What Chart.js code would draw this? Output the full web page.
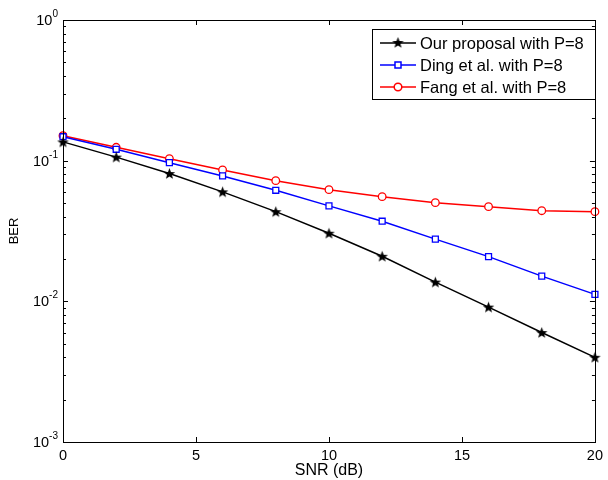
<!DOCTYPE html>
<html>
<head>
<meta charset="utf-8">
<script src="https://cdn.jsdelivr.net/npm/chart.js@4/dist/chart.umd.min.js"></script>
<style>
  html, body { margin: 0; padding: 0; background: #fff; }
  canvas { display: block; }
</style>
</head>
<body>
<canvas id="berChart" width="608" height="480"></canvas>
<script>
// --- data ---
const snr = [0, 2, 4, 6, 8, 10, 12, 14, 16, 18, 20];
const oursBer = [0.136, 0.106, 0.081, 0.060, 0.0434, 0.0305, 0.0209, 0.0137, 0.0091, 0.0060, 0.0040];
const dingBer = [0.148, 0.1205, 0.0968, 0.0779, 0.0616, 0.0477, 0.0371, 0.0277, 0.0208, 0.0151, 0.0112];
const fangBer = [0.1506, 0.1245, 0.1033, 0.0859, 0.0721, 0.0622, 0.0555, 0.0503, 0.0471, 0.0441, 0.0434];
const seriesNames = ['Our proposal with P=8', 'Ding et al. with P=8', 'Fang et al. with P=8'];
const xTicks = [0, 5, 10, 15, 20];
const yDecades = [0, -1, -2, -3];

const FONT = "'Liberation Sans', Arial, Helvetica, sans-serif";

// filled pentagram marker (MATLAB 'p')
function makeStar(size) {
    const c = document.createElement('canvas');
    c.width = size; c.height = size;
    const g = c.getContext('2d');
    const cx = size / 2, cy = size / 2 + 0.5;
    const ro = size / 2 - 0.5, ri = ro * 0.42;
    g.beginPath();
    for (let i = 0; i < 10; i++) {
        const r = i % 2 === 0 ? ro : ri;
        const a = -Math.PI / 2 + i * Math.PI / 5;
        const px = cx + r * Math.cos(a), py = cy + r * Math.sin(a);
        if (i === 0) g.moveTo(px, py); else g.lineTo(px, py);
    }
    g.closePath();
    g.fillStyle = '#000';
    g.fill();
    return c;
}
const starImg = makeStar(13);

const toPoints = arr => arr.map((v, i) => ({ x: snr[i], y: v }));

// --- axes box, inward ticks, log labels, legend ---
const matlabAxes = {
    id: 'matlabAxes',
    afterDraw(chart) {
        const { ctx, chartArea: a, scales } = chart;
        const xs = scales.x, ys = scales.y;
        ctx.save();
        ctx.strokeStyle = '#000';
        ctx.lineWidth = 1;

        // ticks
        ctx.beginPath();
        xTicks.forEach(t => {
            const px = Math.round(xs.getPixelForValue(t)) + 0.5;
            ctx.moveTo(px, a.bottom); ctx.lineTo(px, a.bottom - 5);
            ctx.moveTo(px, a.top); ctx.lineTo(px, a.top + 5);
        });
        for (let e = -3; e < 0; e++) {
            for (let k = 1; k <= 9; k++) {
                const py = Math.round(ys.getPixelForValue(k * Math.pow(10, e))) + 0.5;
                const len = k === 1 ? 5 : 3;
                ctx.moveTo(a.left, py); ctx.lineTo(a.left + len, py);
                ctx.moveTo(a.right, py); ctx.lineTo(a.right - len, py);
            }
        }
        ctx.stroke();

        // box
        ctx.strokeRect(Math.round(a.left) + 0.5, Math.round(a.top) + 0.5,
            Math.round(a.right - a.left), Math.round(a.bottom - a.top));

        // y labels 10^n
        ctx.fillStyle = '#000';
        yDecades.forEach(e => {
            const py = ys.getPixelForValue(Math.pow(10, e));
            const expStr = String(e);
            ctx.font = '10px ' + FONT;
            const ew = ctx.measureText(expStr).width;
            const right = a.left - 5;
            ctx.textAlign = 'left';
            ctx.textBaseline = 'alphabetic';
            ctx.fillText(expStr, right - ew, py - 3);
            ctx.font = '14.5px ' + FONT;
            ctx.textAlign = 'right';
            ctx.textBaseline = 'middle';
            ctx.fillText('10', right - ew, py + 1);
        });

        // legend
        const lx = 372, ly = 29, lw = 223, lh = 70;
        ctx.fillStyle = '#fff';
        ctx.fillRect(lx, ly, lw, lh);
        ctx.strokeRect(lx + 0.5, ly + 0.5, lw, lh);
        chart.data.datasets.forEach((ds, i) => {
            const ry = ly + 14 + i * 22;
            ctx.strokeStyle = ds.borderColor;
            ctx.lineWidth = 1.5;
            ctx.beginPath();
            ctx.moveTo(lx + 8, ry); ctx.lineTo(lx + 44, ry);
            ctx.stroke();
            const mx = lx + 26;
            if (ds.pointStyle === starImg) {
                ctx.drawImage(starImg, mx - 6.5, ry - 7);
            } else if (ds.pointStyle === 'rect') {
                ctx.fillStyle = '#fff';
                ctx.fillRect(mx - 3, ry - 3, 6, 6);
                ctx.strokeRect(mx - 3, ry - 3, 6, 6);
            } else {
                ctx.fillStyle = '#fff';
                ctx.beginPath();
                ctx.arc(mx, ry, 3.8, 0, Math.PI * 2);
                ctx.fill(); ctx.stroke();
            }
            ctx.fillStyle = '#000';
            ctx.font = '16.5px ' + FONT;
            ctx.textAlign = 'left';
            ctx.textBaseline = 'middle';
            ctx.fillText(ds.label, lx + 48, ry + 1);
        });
        ctx.restore();
    }
};

new Chart(document.getElementById('berChart'), {
    type: 'line',
    data: {
        datasets: [{
            label: seriesNames[0],
            data: toPoints(oursBer),
            borderColor: '#000',
            borderWidth: 1.5,
            pointStyle: starImg,
            pointRadius: 6,
            clip: false
        }, {
            label: seriesNames[1],
            data: toPoints(dingBer),
            borderColor: '#0000ff',
            borderWidth: 1.5,
            pointStyle: 'rect',
            pointRadius: 4.2,
            pointBorderWidth: 1.3,
            pointBackgroundColor: '#fff',
            clip: false
        }, {
            label: seriesNames[2],
            data: toPoints(fangBer),
            borderColor: '#ff0000',
            borderWidth: 1.5,
            pointStyle: 'circle',
            pointRadius: 3.8,
            pointBorderWidth: 1.3,
            pointBackgroundColor: '#fff',
            clip: false
        }]
    },
    options: {
        responsive: false,
        maintainAspectRatio: false,
        animation: false,
        devicePixelRatio: 1,
        layout: { padding: { top: 20, right: 10, left: 0, bottom: 0 } },
        plugins: { legend: { display: false }, tooltip: { enabled: false } },
        scales: {
            x: {
                type: 'linear',
                min: 0,
                max: 20,
                afterFit: s => { s.height = 38; },
                afterBuildTicks: s => { s.ticks = xTicks.map(v => ({ value: v })); },
                grid: { display: false, drawTicks: false },
                border: { display: false },
                ticks: { color: '#000', padding: 5, font: { family: FONT, size: 14.5 }, maxRotation: 0 },
                title: { display: true, text: 'SNR (dB)', color: '#000', padding: { top: 0, bottom: 0 },
                    font: { family: FONT, size: 16 } }
            },
            y: {
                type: 'logarithmic',
                min: 0.001,
                max: 1,
                afterFit: s => { s.width = 63; },
                grid: { display: false, drawTicks: false },
                border: { display: false },
                ticks: { display: false },
                title: { display: true, text: 'BER', color: '#000', padding: { top: 7, bottom: 0 },
                    font: { family: FONT, size: 13 } }
            }
        }
    },
    plugins: [matlabAxes]
});
</script>
</body>
</html>
